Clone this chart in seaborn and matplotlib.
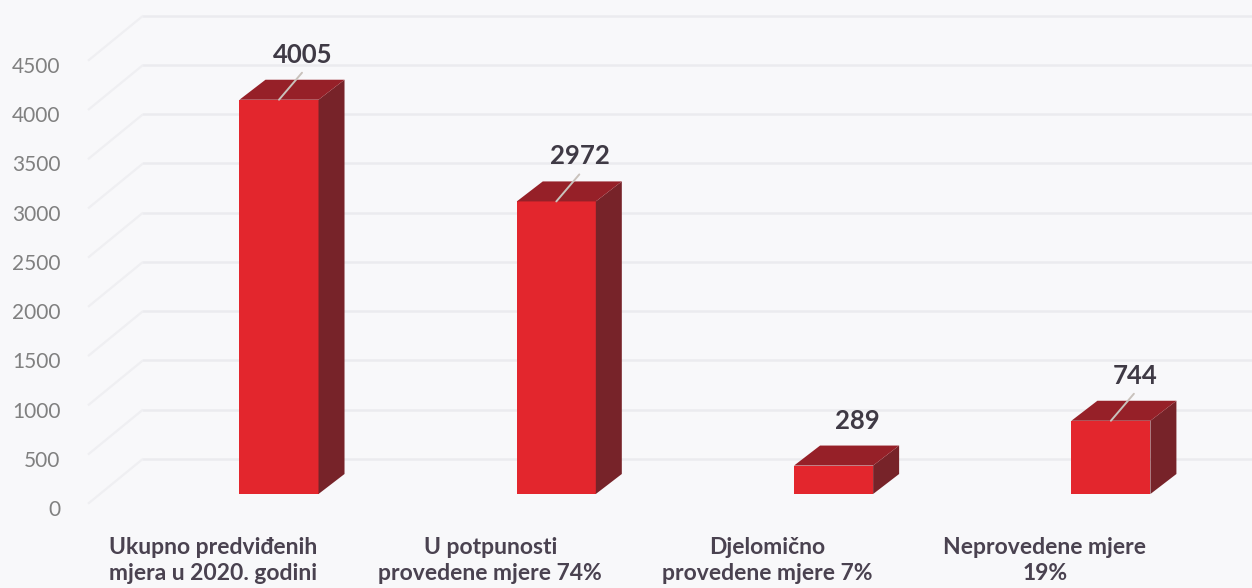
import numpy as np
import pandas as pd
import matplotlib
matplotlib.use("Agg")
import matplotlib.pyplot as plt
import matplotlib.transforms as mtransforms
from matplotlib.patches import Polygon
import seaborn as sns

# data
categories = ["Ukupno predviđenih\nmjera u 2020. godini",
              "U potpunosti\nprovedene mjere 74%",
              "Djelomično\nprovedene mjere 7%",
              "Neprovedene mjere\n19%"]
values = [4005, 2972, 289, 744]
y_ticks = [0, 500, 1000, 1500, 2000, 2500, 3000, 3500, 4000, 4500]
grid_levels = [500, 1000, 1500, 2000, 2500, 3000, 3500, 4000, 4500, 5000]

W, H, DPI = 1252, 588, 100
front_col = "#e3262d"
top_col = "#962028"
side_col = "#772329"
grid_col = "#ebebef"
diag_col = "#efeff2"

sns.set_theme(style="white")
plt.rcParams["font.family"] = ["Lato", "DejaVu Sans"]

fig = plt.figure(figsize=(W / DPI, H / DPI), dpi=DPI)
fig.patch.set_facecolor("#f8f8fa")
ax = fig.add_axes([70 / W, 80 / H, 1 - 70 / W, 508 / H])
ax.set_facecolor("none")

df = pd.DataFrame({"cat": categories, "val": values})
sns.barplot(data=df, x="cat", y="val", color=front_col, saturation=1,
            width=0.285, errorbar=None, ax=ax, zorder=3)

# pixel scale of the axes
px_x = 277.3          # pixels per category step
px_y = 443 / 4500     # pixels per unit
ax.set_xlim(-143 / px_x, (1182 - 143) / px_x)
ax.set_ylim(0, 508 / px_y)
sx, sy = 1 / px_x, 1 / px_y

# back wall gridlines + side wall diagonals
wall_x = ax.get_xlim()[0] + 73 * sx
for lv in grid_levels:
    ax.axhline(lv, xmin=73 / 1182, xmax=1, color=grid_col, lw=1.8, zorder=1)
    ax.plot([wall_x - 55 * sx, wall_x], [lv - 45 * sy, lv], color=diag_col,
            lw=1.6, zorder=1, solid_capstyle="butt")

# 3d look: bars sit deeper than the axis, with side and top faces
bar_tr = ax.transData + mtransforms.ScaledTranslation(66 / DPI, 14 / DPI, fig.dpi_scale_trans)
ddx, ddy = 26 * sx, 20 * sy
for p, v in zip(ax.patches, values):
    p.set_transform(bar_tr)
    p.set_edgecolor("none")
    x0, w, h = p.get_x(), p.get_width(), p.get_height()
    side = Polygon([(x0 + w, 0), (x0 + w + ddx, ddy), (x0 + w + ddx, h + ddy), (x0 + w, h)],
                   closed=True, facecolor=side_col, edgecolor="none", transform=bar_tr, zorder=3)
    top = Polygon([(x0, h), (x0 + ddx, h + ddy), (x0 + w + ddx, h + ddy), (x0 + w, h)],
                  closed=True, facecolor=top_col, edgecolor="none", transform=bar_tr, zorder=3)
    ax.add_patch(side)
    ax.add_patch(top)
    cx = x0 + w / 2
    if v >= 500:
        ax.annotate("", xy=(cx, h), xycoords=bar_tr, xytext=(23, 27),
                    textcoords="offset pixels",
                    arrowprops=dict(arrowstyle="-", color="#c9c2bc", lw=1.4,
                                    shrinkA=0, shrinkB=0), zorder=4)
    ax.annotate(f"{v}", xy=(cx, h), xycoords=bar_tr, xytext=(24, 45),
                textcoords="offset pixels", ha="center", va="center",
                fontsize=18.5, fontweight="bold", color="#3f3a45", zorder=5)

ax.set_yticks(y_ticks)
ax.set_yticklabels([str(t) for t in y_ticks])
ax.set_xticks(range(len(categories)))
ax.set_xticklabels(categories, fontweight="bold", linespacing=1.28)
ax.tick_params(axis="y", length=0, pad=7, labelsize=15, labelcolor="#808080")
ax.tick_params(axis="x", length=0, pad=21, labelsize=16.5, labelcolor="#4a4250")
ax.set_xlabel("")
ax.set_ylabel("")
for s in ax.spines.values():
    s.set_visible(False)

fig.savefig("out.png", dpi=DPI, facecolor=fig.get_facecolor())
